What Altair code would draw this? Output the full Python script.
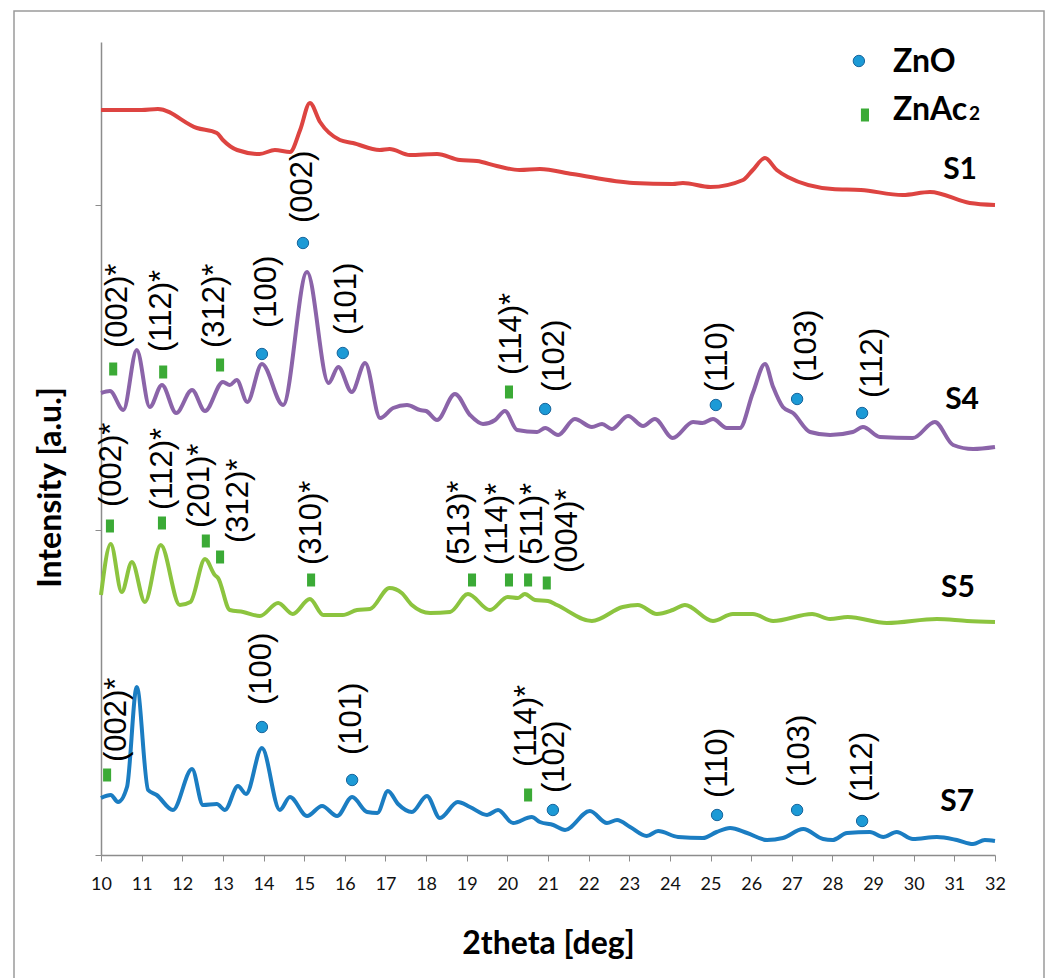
import altair as alt
import pandas as pd

# ---------------- data (2theta in deg, intensity in a.u.) ----------------
s1_x = [10.0, 10.5, 11.0, 11.4, 12.36, 12.85, 13.0, 13.35, 13.9, 14.28, 14.65, 14.9, 15.14, 15.39,
        15.88, 16.2, 16.86, 17.1, 17.6, 18.27, 18.83, 19.25, 19.74, 20.3, 20.8, 21.6, 23.1, 24.07,
        24.32, 25.0, 25.8, 26.04, 26.34, 26.63, 26.9, 28.0, 28.7, 29.73, 30.4, 31.38, 32.0]
s1_y = [745, 745, 745, 746, 727, 722, 715, 705, 701, 705, 703, 725, 752, 733,
        715, 712, 705, 706, 700, 701, 695, 694, 689, 685, 686, 681, 672, 671,
        672, 668, 675, 685, 697, 685, 678, 666, 665, 660, 663, 652, 650]

s4_x = [10.0, 10.22, 10.55, 10.88, 11.2, 11.5, 11.85, 12.24, 12.56, 13.0, 13.17, 13.34, 13.6, 13.96,
        14.48, 15.07, 15.6, 15.84, 16.17, 16.5, 16.87, 17.19, 17.53, 17.85, 18.0, 18.27, 18.71,
        19.08, 19.4, 19.7, 19.94, 20.24, 20.73, 20.93, 21.25, 21.66, 22.08, 22.33, 22.57, 22.97,
        23.34, 23.63, 24.07, 24.57, 24.8, 25.06, 25.4, 25.72, 26.04, 26.34, 26.54, 26.78, 27.03,
        27.45, 27.94, 28.5, 28.75, 29.17, 29.98, 30.52, 30.97, 31.46, 32.0]
s4_y = [462, 464, 445, 505, 448, 470, 442, 465, 444, 473, 470, 475, 453, 491,
        450, 583, 472, 488, 463, 492, 437, 447, 450, 445, 444, 435, 461,
        440, 431, 435, 444, 425, 423, 427, 420, 436, 428, 431, 426, 439,
        429, 436, 417, 433, 432, 436, 427, 427, 462, 491, 468, 448, 442,
        423, 420, 423, 428, 418, 417, 433, 410, 406, 408]

s5_x = [10.0, 10.24, 10.51, 10.76, 11.08, 11.47, 11.94, 12.2, 12.56, 12.8, 12.88, 13.17, 13.5,
        13.91, 14.36, 14.72, 15.14, 15.47, 15.95, 16.3, 16.62, 17.1, 17.4, 17.65, 18.1, 18.59,
        19.03, 19.57, 20.01, 20.26, 20.43, 20.68, 21.0, 21.22, 22.08, 22.84, 23.21, 23.68, 24.07,
        24.37, 25.06, 25.55, 26.04, 26.54, 27.5, 27.94, 28.38, 29.34, 30.57, 31.31, 32.0]
s5_y = [260, 311, 263, 293, 253, 310, 250, 253, 296, 280, 277, 245, 243,
        239, 252, 241, 256, 240, 240, 245, 246, 267, 262, 250, 242, 243,
        261, 245, 258, 257, 261, 255, 254, 250, 234, 248, 250, 241, 245,
        250, 234, 241, 241, 234, 241, 236, 238, 232, 236, 234, 233]

s7_x = [10.0, 10.24, 10.42, 10.64, 10.88, 11.16, 11.37, 11.77, 12.24, 12.51, 12.85, 13.05, 13.37,
        13.57, 13.96, 14.4, 14.65, 15.07, 15.44, 15.81, 16.18, 16.55, 16.8, 17.06, 17.31, 17.65,
        18.02, 18.34, 18.78, 19.08, 19.5, 19.77, 20.14, 20.6, 20.8, 21.13, 21.42, 22.03, 22.45,
        22.7, 23.02, 23.43, 23.71, 24.2, 24.81, 25.15, 25.48, 25.9, 26.39, 26.78, 27.28, 27.77,
        28.0, 28.36, 28.92, 29.25, 29.58, 29.98, 30.57, 31.06, 31.46, 31.75, 32.0]
s7_y = [57, 60, 53, 68, 168, 65, 60, 45, 86, 50, 51, 45, 69,
        61, 107, 45, 58, 39, 49, 39, 58, 43, 42, 64, 51, 43,
        59, 37, 53, 48, 40, 45, 32, 38, 33, 30, 25, 44, 32,
        35, 28, 19, 24, 18, 17, 23, 27, 22, 15, 17, 26, 16,
        15, 22, 23, 18, 23, 16, 18, 15, 11, 15, 14]

series_names = ["S1", "S4", "S5", "S7"]
series_colors = ["#DD4441", "#8B64A9", "#8CC43F", "#1B7DC2"]
series_label_x = [31.14, 31.19, 31.09, 31.07]
series_label_y = [685, 455, 267, 53]

# ZnO (circle) peak markers
zno_x = [13.96, 14.97, 15.95, 20.93, 25.13, 27.13, 28.73,
         13.96, 16.18, 21.12, 25.16, 27.13, 28.73]
zno_y = [501, 612, 502, 446, 450, 456, 442,
         128, 75, 45, 40, 45, 34]

# ZnAc2 (square) peak markers
znac_x = [10.30, 11.53, 12.93, 20.04,
          10.22, 11.50, 12.58, 12.93, 15.17, 19.13, 20.04, 20.51, 20.97,
          10.15, 20.51]
znac_y = [486, 483, 490, 463,
          329, 332, 314, 298, 275, 275, 275, 275, 272,
          80, 60]

# Miller index labels
hkl_text = ["(002)*", "(112)*", "(312)*", "(100)", "(002)", "(101)", "(114)*", "(102)",
            "(110)", "(103)", "(112)",
            "(002)*", "(112)*", "(201)*", "(312)*", "(310)*", "(513)*", "(114)*", "(511)*", "(004)*",
            "(002)*", "(100)", "(101)", "(114)*", "(102)", "(110)", "(103)", "(112)"]
hkl_x = [10.42, 11.50, 12.81, 14.08, 14.97, 16.05, 20.11, 21.17, 25.18, 27.37, 29.0,
         10.27, 11.53, 12.44, 13.40, 15.19, 18.83, 19.77, 20.63, 21.49,
         10.39, 13.96, 16.18, 20.48, 21.17, 25.18, 27.2, 28.76]
hkl_y = [507, 503, 507, 527, 632, 520, 480, 463, 463, 473, 457,
         348, 345, 327, 312, 290, 290, 290, 290, 282,
         93, 150, 100, 88, 62, 57, 68, 53]

# legend entries
legend_text = ["ZnO", "ZnAc"]
legend_sym_x = [28.65, 28.80]
legend_sym_y = [794, 740]
legend_text_x = [29.49, 29.49]
legend_text_y = [793, 745]
legend_sub_x = [31.36]
legend_sub_y = [741]

x_ticks = [10 + 0.5 * i for i in range(45)]
y_ticks = [0, 325, 650]

# ---------------- build tables ----------------
rows = []
for name, xs, ys in zip(series_names, [s1_x, s4_x, s5_x, s7_x], [s1_y, s4_y, s5_y, s7_y]):
    for a, b in zip(xs, ys):
        rows.append({"series": name, "theta": a, "intensity": b})
lines_df = pd.DataFrame(rows)
zno_df = pd.DataFrame({"theta": zno_x, "intensity": zno_y})
znac_df = pd.DataFrame({"theta": znac_x, "intensity": znac_y})
hkl_df = pd.DataFrame({"label": hkl_text, "theta": hkl_x, "intensity": hkl_y})
sname_df = pd.DataFrame({"label": series_names, "theta": series_label_x, "intensity": series_label_y})
leg_sym_df = pd.DataFrame({"kind": legend_text, "theta": legend_sym_x, "intensity": legend_sym_y})
leg_txt_df = pd.DataFrame({"label": legend_text, "theta": legend_text_x, "intensity": legend_text_y})
sub_df = pd.DataFrame({"label": ["2"], "theta": legend_sub_x, "intensity": legend_sub_y})
frame_df = pd.DataFrame({"a": [0]})

x_scale = alt.Scale(domain=[10, 32], nice=False, zero=False)
y_scale = alt.Scale(domain=[0, 813], nice=False, zero=False)

X = alt.X("theta:Q", scale=x_scale,
          axis=alt.Axis(values=x_ticks, grid=False, domainColor="#8c8c8c", domainWidth=1.5,
                        tickColor="#8c8c8c", tickSize=6, tickWidth=1,
                        labelExpr="floor(datum.value) == datum.value ? format(datum.value, 'd') : ''",
                        labelOverlap=False, labelFlush=False, labelFont="Lato", labelFontSize=18,
                        labelColor="#111111", labelPadding=14,
                        title="2theta [deg]", titleFont="Lato", titleFontSize=32, titleFontWeight="bold",
                        titleColor="#000000", titleY=88, titleBaseline="middle"))
Y = alt.Y("intensity:Q", scale=y_scale,
          axis=alt.Axis(values=y_ticks, grid=False, labels=False, domainColor="#8c8c8c", domainWidth=1.5,
                        tickColor="#8c8c8c", tickSize=6,
                        title="Intensity [a.u.]", titleFont="Lato", titleFontSize=32,
                        titleFontWeight="bold", titleColor="#000000", titleAngle=270,
                        titleX=-51, titleY=445, titleAlign="center", titleBaseline="middle"))

frame = alt.Chart(frame_df).mark_rect(fill="transparent", stroke="#9a9a9a", strokeWidth=1.5).encode(
    x=alt.value(-87), x2=alt.value(943), y=alt.value(-31), y2=alt.value(960))

lines = alt.Chart(lines_df).mark_line(strokeWidth=4, interpolate="monotone").encode(
    x=X, y=Y,
    color=alt.Color("series:N", scale=alt.Scale(domain=series_names, range=series_colors), legend=None),
    order=alt.Order("theta:Q"))

circles = alt.Chart(zno_df).mark_point(filled=True, shape="circle", size=130, fill="#1C9AD6",
                                       stroke="#17659c", strokeWidth=1, opacity=1).encode(
    x="theta:Q", y="intensity:Q")

rect_shape = "M-0.62,-1H0.62V1H-0.62Z"
squares = alt.Chart(znac_df).mark_point(filled=True, shape=rect_shape, size=169, fill="#3BAA36",
                                        opacity=1, strokeWidth=0).encode(
    x="theta:Q", y="intensity:Q")

hkl = alt.Chart(hkl_df).mark_text(angle=270, align="left", baseline="middle", font="Liberation Sans",
                                  fontSize=31, color="#000000").encode(
    x="theta:Q", y="intensity:Q", text="label:N")

snames = alt.Chart(sname_df).mark_text(align="center", baseline="middle", font="Lato", fontSize=30,
                                       fontWeight="bold", color="#000000").encode(
    x="theta:Q", y="intensity:Q", text="label:N")

leg_circle = alt.Chart(leg_sym_df[leg_sym_df.kind == "ZnO"]).mark_point(
    filled=True, shape="circle", size=130, fill="#1C9AD6", stroke="#17659c", strokeWidth=1,
    opacity=1).encode(x="theta:Q", y="intensity:Q")
leg_square = alt.Chart(leg_sym_df[leg_sym_df.kind == "ZnAc"]).mark_point(
    filled=True, shape=rect_shape, size=169, fill="#3BAA36", opacity=1, strokeWidth=0).encode(
    x="theta:Q", y="intensity:Q")
leg_text = alt.Chart(leg_txt_df).mark_text(align="left", baseline="middle", font="Lato", fontSize=32,
                                           fontWeight="bold", color="#000000").encode(
    x="theta:Q", y="intensity:Q", text="label:N")
leg_sub = alt.Chart(sub_df).mark_text(align="left", baseline="middle", font="Lato", fontSize=19,
                                      fontWeight="bold", color="#000000").encode(
    x="theta:Q", y="intensity:Q", text="label:N")

chart = alt.layer(frame, lines, circles, squares, hkl, snames, leg_circle, leg_square, leg_text, leg_sub
                  ).properties(
    width=894, height=813,
    autosize=alt.AutoSizeParams(type="none"),
    padding={"left": 101, "top": 42, "right": 54, "bottom": 123},
    background="white",
).configure_view(strokeWidth=0)

chart.save("out.html", embed_options={"renderer": "svg", "actions": False})
